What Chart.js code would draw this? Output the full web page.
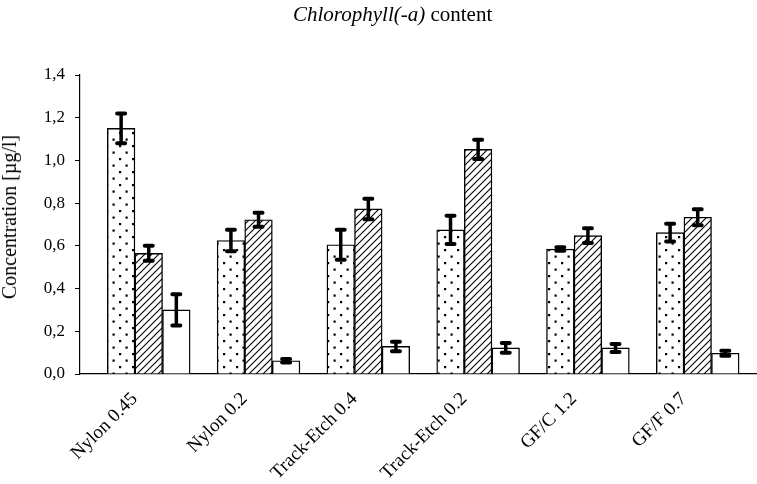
<!DOCTYPE html>
<html>
<head>
<meta charset="utf-8">
<script src="https://cdn.jsdelivr.net/npm/chart.js@4.4.1/dist/chart.umd.min.js"></script>
<style>
  body { margin: 0; background: #fff; }
  #wrap { position: relative; width: 757px; height: 484px; }
  #title {
    position: absolute; left: 293px; top: 4px;
    font: 21px 'Liberation Serif', 'Times New Roman', serif; line-height: 21px;
    color: #000; white-space: nowrap;
  }
  #ytitle {
    position: absolute; left: 9px; top: 217px;
    transform: translate(-50%, -50%) rotate(-90deg);
    font: 20px 'Liberation Serif', 'Times New Roman', serif; line-height: 20px;
    color: #000; white-space: nowrap;
  }
</style>
</head>
<body>
<div id="wrap">
  <canvas id="chart"></canvas>
  <div id="title"><i>Chlorophyll(-a)</i> content</div>
  <div id="ytitle">Concentration [µg/l]</div>
</div>
<script>
const categories = ['Nylon 0.45', 'Nylon 0.2', 'Track-Etch 0.4', 'Track-Etch 0.2', 'GF/C 1.2', 'GF/F 0.7'];

const dotted = [1.15, 0.625, 0.605, 0.675, 0.585, 0.662];
const dottedErr = [0.07, 0.05, 0.07, 0.066, 0.008, 0.042];

const hatched = [0.565, 0.722, 0.773, 1.052, 0.648, 0.734];
const hatchedErr = [0.035, 0.033, 0.048, 0.045, 0.035, 0.037];

const white = [0.30, 0.062, 0.129, 0.122, 0.122, 0.097];
const whiteErr = [0.073, 0.008, 0.022, 0.023, 0.019, 0.012];

const yTicks = [0, 0.2, 0.4, 0.6, 0.8, 1.0, 1.2, 1.4];

// patterns
function dotPattern() {
    const c = document.createElement('canvas');
    c.width = 13; c.height = 13;
    const g = c.getContext('2d');
    g.fillStyle = '#fff';
    g.fillRect(0, 0, 13, 13);
    g.fillStyle = '#000';
    g.fillRect(2, 2, 2.2, 2.2);
    g.fillRect(8.5, 8.5, 2.2, 2.2);
    return g.createPattern(c, 'repeat');
}

function hatchPattern() {
    const c = document.createElement('canvas');
    c.width = 7; c.height = 7;
    const g = c.getContext('2d');
    g.fillStyle = '#fff';
    g.fillRect(0, 0, 7, 7);
    g.strokeStyle = '#000';
    g.lineWidth = 1.1;
    g.beginPath();
    g.moveTo(-1, 8); g.lineTo(8, -1);
    g.moveTo(-1, 1); g.lineTo(1, -1);
    g.moveTo(6, 8); g.lineTo(8, 6);
    g.stroke();
    return g.createPattern(c, 'repeat');
}

const toPoints = arr => arr.map((v, i) => ({ x: i, y: v }));

const errors = [dottedErr, hatchedErr, whiteErr];

const errorBars = {
    id: 'errorBars',
    afterDatasetsDraw(chart) {
        const ctx = chart.ctx;
        const y = chart.scales.y;
        ctx.save();
        ctx.strokeStyle = '#000';
        errors.forEach((err, i) => {
            chart.getDatasetMeta(i).data.forEach((bar, j) => {
                const v = chart.data.datasets[i].data[j].y;
                const top = y.getPixelForValue(v + err[j]);
                const bot = y.getPixelForValue(v - err[j]);
                ctx.lineCap = 'butt';
                ctx.lineWidth = 3.5;
                ctx.beginPath();
                ctx.moveTo(bar.x, top);
                ctx.lineTo(bar.x, bot);
                ctx.stroke();
                ctx.lineCap = 'round';
                ctx.lineWidth = 4;
                ctx.beginPath();
                ctx.moveTo(bar.x - 4, top); ctx.lineTo(bar.x + 4, top);
                ctx.moveTo(bar.x - 4, bot); ctx.lineTo(bar.x + 4, bot);
                ctx.stroke();
            });
        });
        ctx.restore();
    }
};

const serif = "'Liberation Serif', 'Times New Roman', serif";

new Chart(document.getElementById('chart'), {
    type: 'bar',
    data: {
        datasets: [
            { label: 'Series 1', data: toPoints(dotted), backgroundColor: dotPattern() },
            { label: 'Series 2', data: toPoints(hatched), backgroundColor: hatchPattern() },
            { label: 'Series 3', data: toPoints(white), backgroundColor: '#fff' },
        ].map(d => Object.assign(d, {
            borderColor: '#000',
            borderWidth: 1.4,
            barThickness: 27.6,
        })),
    },
    options: {
        responsive: true,
        maintainAspectRatio: false,
        animation: false,
        layout: { autoPadding: false, padding: { top: 75, left: 0, right: 0, bottom: 0 } },
        plugins: {
            legend: { display: false },
            tooltip: { enabled: false },
        },
        scales: {
            x: {
                type: 'linear',
                bounds: 'data',
                offset: false,
                min: -0.626,
                max: 5.54,
                afterBuildTicks: s => { s.ticks = categories.map((c, i) => ({ value: i })); },
                afterFit: s => { s.height = 110; s.paddingLeft = 0; s.paddingRight = 0; },
                grid: { display: false, drawTicks: false, offset: false },
                border: { display: true, color: '#000', width: 1.2 },
                ticks: {
                    autoSkip: false,
                    maxRotation: 45,
                    minRotation: 45,
                    padding: 14,
                    labelOffset: -14,
                    color: '#000',
                    font: { family: serif, size: 19 },
                    callback: v => categories[v] || '',
                },
            },
            y: {
                min: 0,
                max: 1.4,
                afterFit: s => { s.width = 80; },
                afterBuildTicks: s => { s.ticks = yTicks.map(v => ({ value: v })); },
                grid: { display: true, drawOnChartArea: false, drawTicks: true, tickLength: 5, color: '#000' },
                border: { display: true, color: '#000', width: 1.2 },
                ticks: {
                    padding: 10,
                    color: '#000',
                    font: { family: serif, size: 17 },
                    callback: v => v.toFixed(1).replace('.', ','),
                },
            },
        },
    },
    plugins: [errorBars],
});
</script>
</body>
</html>
